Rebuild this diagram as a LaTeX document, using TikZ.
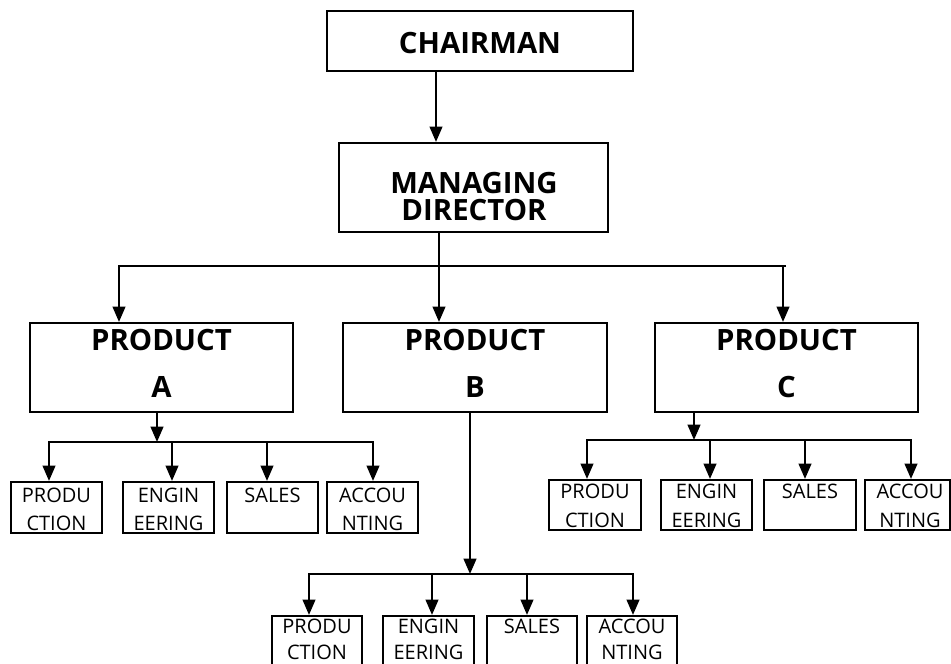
\documentclass[tikz,border=0pt]{standalone}
\usepackage{fontspec}
\setmainfont{Open Sans}
\usetikzlibrary{arrows.meta,fit}
\begin{document}
\begin{tikzpicture}[x=0.75pt,y=-0.75pt,
  box/.style={draw=black, line width=1.6pt, inner sep=0pt},
  big/.style={font=\fontsize{22}{26}\selectfont\bfseries, inner sep=0pt, anchor=base},
  small/.style={font=\fontsize{15}{18}\selectfont, inner sep=0pt, anchor=base},
  con/.style={line width=1.6pt, line join=miter},
  arr/.style={con, -{Triangle[length=11.5pt,width=9.5pt]}},
  darr/.style={con, {Triangle[length=11.5pt,width=9.5pt]}-{Triangle[length=11.5pt,width=9.5pt]}},
]
\useasboundingbox (0,0) rectangle (951,664);
\clip (0,0) rectangle (951,664);
\fill[white] (0,0) rectangle (951,664);

% top boxes
\node[box, fit={(327,11) (633,71)}] (chair) {};
\node[big] (chairt) at (480,53) {CHAIRMAN};
\node[box, fit={(339,143) (608,232)}] (md) {};
\node[big] (mdt1) at (474,193) {MANAGING};
\node[big] (mdt2) at (474,220) {DIRECTOR};

% product boxes
\node[box, fit={(30,323) (293,412)}] (pa) {};
\node[big] (pat1) at (161.5,350) {PRODUCT};
\node[big] (pat2) at (161.5,397) {A};
\node[box, fit={(343,323) (607,412)}] (pb) {};
\node[big] (pbt1) at (475,350) {PRODUCT};
\node[big] (pbt2) at (475,397) {B};
\node[box, fit={(655,323) (918,412)}] (pc) {};
\node[big] (pct1) at (786.5,350) {PRODUCT};
\node[big] (pct2) at (786.5,397) {C};

% group A
\node[box, fit={(11,482) (102,533)}] (a1) {};
\node[box, fit={(123,482) (214,533)}] (a2) {};
\node[box, fit={(227,482) (318,533)}] (a3) {};
\node[box, fit={(327,482) (418,533)}] (a4) {};
\node[small] (a1t1) at (56.5,502) {PRODU};
\node[small] (a1t2) at (56.5,530) {CTION};
\node[small] (a2t1) at (168.5,502) {ENGIN};
\node[small] (a2t2) at (168.5,530) {EERING};
\node[small] (a3t1) at (272.5,502) {SALES};
\node[small] (a4t1) at (372.5,502) {ACCOU};
\node[small] (a4t2) at (372.5,530) {NTING};

% group C
\node[box, fit={(549,480) (641,530)}] (c1) {};
\node[box, fit={(661,480) (752,530)}] (c2) {};
\node[box, fit={(764,480) (856,530)}] (c3) {};
\node[box, fit={(865,480) (950,530)}] (c4) {};
\node[small] (c1t1) at (595,498) {PRODU};
\node[small] (c1t2) at (595,527) {CTION};
\node[small] (c2t1) at (706.5,498) {ENGIN};
\node[small] (c2t2) at (706.5,527) {EERING};
\node[small] (c3t1) at (810,498) {SALES};
\node[small] (c4t1) at (910,498) {ACCOU};
\node[small] (c4t2) at (910,527) {NTING};

% group B
\node[box, fit={(272,616) (362,668)}] (b1) {};
\node[box, fit={(383,616) (474,668)}] (b2) {};
\node[box, fit={(487,616) (577,668)}] (b3) {};
\node[box, fit={(587,616) (677,668)}] (b4) {};
\node[small] (b1t1) at (317,633) {PRODU};
\node[small] (b1t2) at (317,659) {CTION};
\node[small] (b2t1) at (428.5,633) {ENGIN};
\node[small] (b2t2) at (428.5,659) {EERING};
\node[small] (b3t1) at (532,633) {SALES};
\node[small] (b4t1) at (632,633) {ACCOU};
\node[small] (b4t2) at (632,659) {NTING};

% top connectors
\coordinate (ca) at (436,0);
\draw[arr] (chair.south -| ca) -- (md.north -| ca);
\coordinate (mx) at (439,266);
\coordinate (busL) at (119,266);
\coordinate (busR) at (786,266);
\coordinate (cx) at (783,266);
\draw[con] (md.south -| mx) -- (mx);
\draw[arr] (busR) -- (busL) -- (pa.north -| busL);
\draw[arr] (mx) -- (pb.north -| mx);
\draw[arr] (cx) -- (pc.north -| cx);

% A connectors
\coordinate (ja) at (157,442);
\coordinate (a1x) at (49,442);
\coordinate (a2x) at (172,442);
\coordinate (a3x) at (267,442);
\coordinate (a4x) at (373,442);
\draw[arr] (pa.south -| ja) -- (ja);
\draw[darr] (a1.north -| a1x) -- (a1x) -- (a4x) -- (a4.north -| a4x);
\draw[arr] (a2x) -- (a2.north -| a2x);
\draw[arr] (a3x) -- (a3.north -| a3x);

% C connectors
\coordinate (jc) at (694,440);
\coordinate (c1x) at (587,440);
\coordinate (c2x) at (710,440);
\coordinate (c3x) at (805,440);
\coordinate (c4x) at (911,440);
\draw[arr] (pc.south -| jc) -- (jc);
\draw[darr] (c1.north -| c1x) -- (c1x) -- (c4x) -- (c4.north -| c4x);
\draw[arr] (c2x) -- (c2.north -| c2x);
\draw[arr] (c3x) -- (c3.north -| c3x);

% B connectors
\coordinate (jb) at (470,574);
\coordinate (b1x) at (309,574);
\coordinate (b2x) at (432,574);
\coordinate (b3x) at (527,574);
\coordinate (b4x) at (633,574);
\draw[arr] (pb.south -| jb) -- (jb);
\draw[darr] (b1.north -| b1x) -- (b1x) -- (b4x) -- (b4.north -| b4x);
\draw[arr] (b2x) -- (b2.north -| b2x);
\draw[arr] (b3x) -- (b3.north -| b3x);
\end{tikzpicture}
\end{document}
